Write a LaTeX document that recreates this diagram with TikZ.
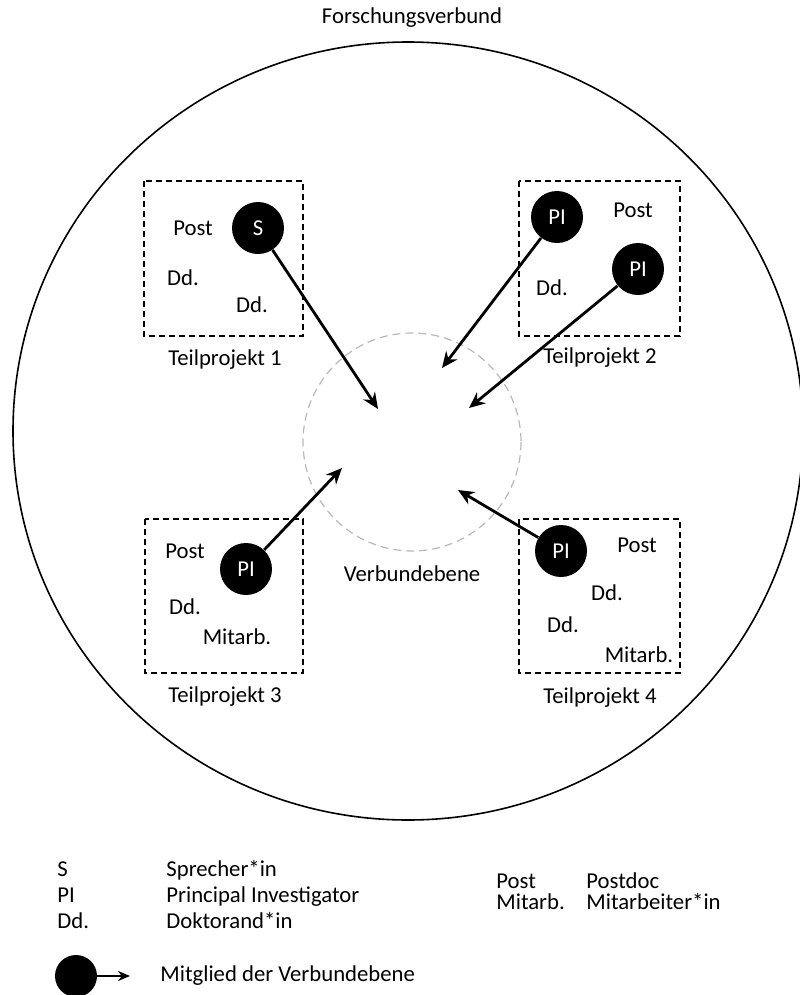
\documentclass[tikz,border=0pt]{standalone}
\usepackage{fontspec}
\setmainfont{Carlito}
\usepackage{tikz}
\usetikzlibrary{arrows.meta}
\newcommand{\membercolor}{black}
\newcommand{\zonecolor}{black!28}
\newcommand{\arrowwidth}{1.4bp}
\newcommand{\dotsize}{26bp}

\tikzset{
  member/.style={fill=\membercolor, circle, inner sep=0pt, minimum size=\dotsize, text=white},
  tpbox/.style={draw, dash pattern=on 3bp off 2bp, line width=0.65bp},
  toverbund/.style={line width=\arrowwidth, -{Stealth[length=8bp,width=7bp]}}
}

\begin{document}
\begin{tikzpicture}[x=0.5bp, y=-0.5bp, every node/.style={inner sep=0pt, font=\fontsize{11.4}{13}\selectfont}]
\clip (0,0) rectangle (800,995);
%Forschungsverbund
\draw[line width=0.8bp] (408,431) ellipse [x radius=395, y radius=389];
\node (title) at (412,18) {Forschungsverbund};
%Verbundebene
\draw[\zonecolor, line width=0.6bp, dash pattern=on 4bp off 2.5bp] (412,442) circle (109);
\node (zone) at (412,574) {Verbundebene};
%Teilprojekt 1
\draw[tpbox] (144,181) rectangle (303,336);
\node (tp1) at (225,360) {Teilprojekt 1};
\node[member] (s1) at (258,228) {S};
\node (post1) at (193,228) {Post};
\node (dd1a) at (183,278) {Dd.};
\node (dd1b) at (252,305) {Dd.};
%Teilprojekt 2
\draw[tpbox] (519,181) rectangle (680,336);
\node (tp2) at (600,358) {Teilprojekt 2};
\node[member] (pi2a) at (557,217) {PI};
\node[member] (pi2b) at (638,269) {PI};
\node (post2) at (633,210) {Post};
\node (dd2) at (552,288) {Dd.};
%Teilprojekt 3
\draw[tpbox] (145,519) rectangle (303,673);
\node (tp3) at (225,697) {Teilprojekt 3};
\node[member] (pi3) at (246,569) {PI};
\node (post3) at (185,551) {Post};
\node (dd3) at (185,607) {Dd.};
\node (mit3) at (237,637) {Mitarb.};
%Teilprojekt 4
\draw[tpbox] (519,519) rectangle (680,673);
\node (tp4) at (600,698) {Teilprojekt 4};
\node[member] (pi4) at (561,551) {PI};
\node (post4) at (637,545) {Post};
\node (dd4a) at (607,593) {Dd.};
\node (dd4b) at (563,625) {Dd.};
\node (mit4) at (639,655) {Mitarb.};
%arrows
\coordinate (t1) at (378,409);
\coordinate (t2a) at (442,368);
\coordinate (t2b) at (469,408);
\coordinate (t3) at (342,468);
\coordinate (t4) at (458,490);
\draw[toverbund] (s1) -- (t1);
\draw[toverbund] (pi2a) -- (t2a);
\draw[toverbund] (pi2b) -- (t2b);
\draw[toverbund] (pi3) -- (t3);
\draw[toverbund] (pi4) -- (t4);
%legend
\node[anchor=base west] (ks) at (57,876) {S};
\node[anchor=base west] (kpi) at (57,902) {PI};
\node[anchor=base west] (kdd) at (57,928) {Dd.};
\node[anchor=base west] (ksx) at (166,876) {Sprecher*in};
\node[anchor=base west] (kpix) at (166,902) {Principal Investigator};
\node[anchor=base west] (kddx) at (166,928) {Doktorand*in};
\node[anchor=base west] (kpost) at (496,888) {Post};
\node[anchor=base west] (kmit) at (496,909) {Mitarb.};
\node[anchor=base west] (kpostx) at (586,888) {Postdoc};
\node[anchor=base west] (kmitx) at (586,909) {Mitarbeiter*in};
\node[fill=\membercolor, circle, minimum size=21bp] (key) at (76,976) {};
\coordinate (keytip) at (130,976);
\draw[line width=1bp, -{Stealth[length=6bp,width=5bp]}] (key) -- (keytip);
\node[anchor=west] (keyx) at (160,976) {Mitglied der Verbundebene};
\end{tikzpicture}
\end{document}
